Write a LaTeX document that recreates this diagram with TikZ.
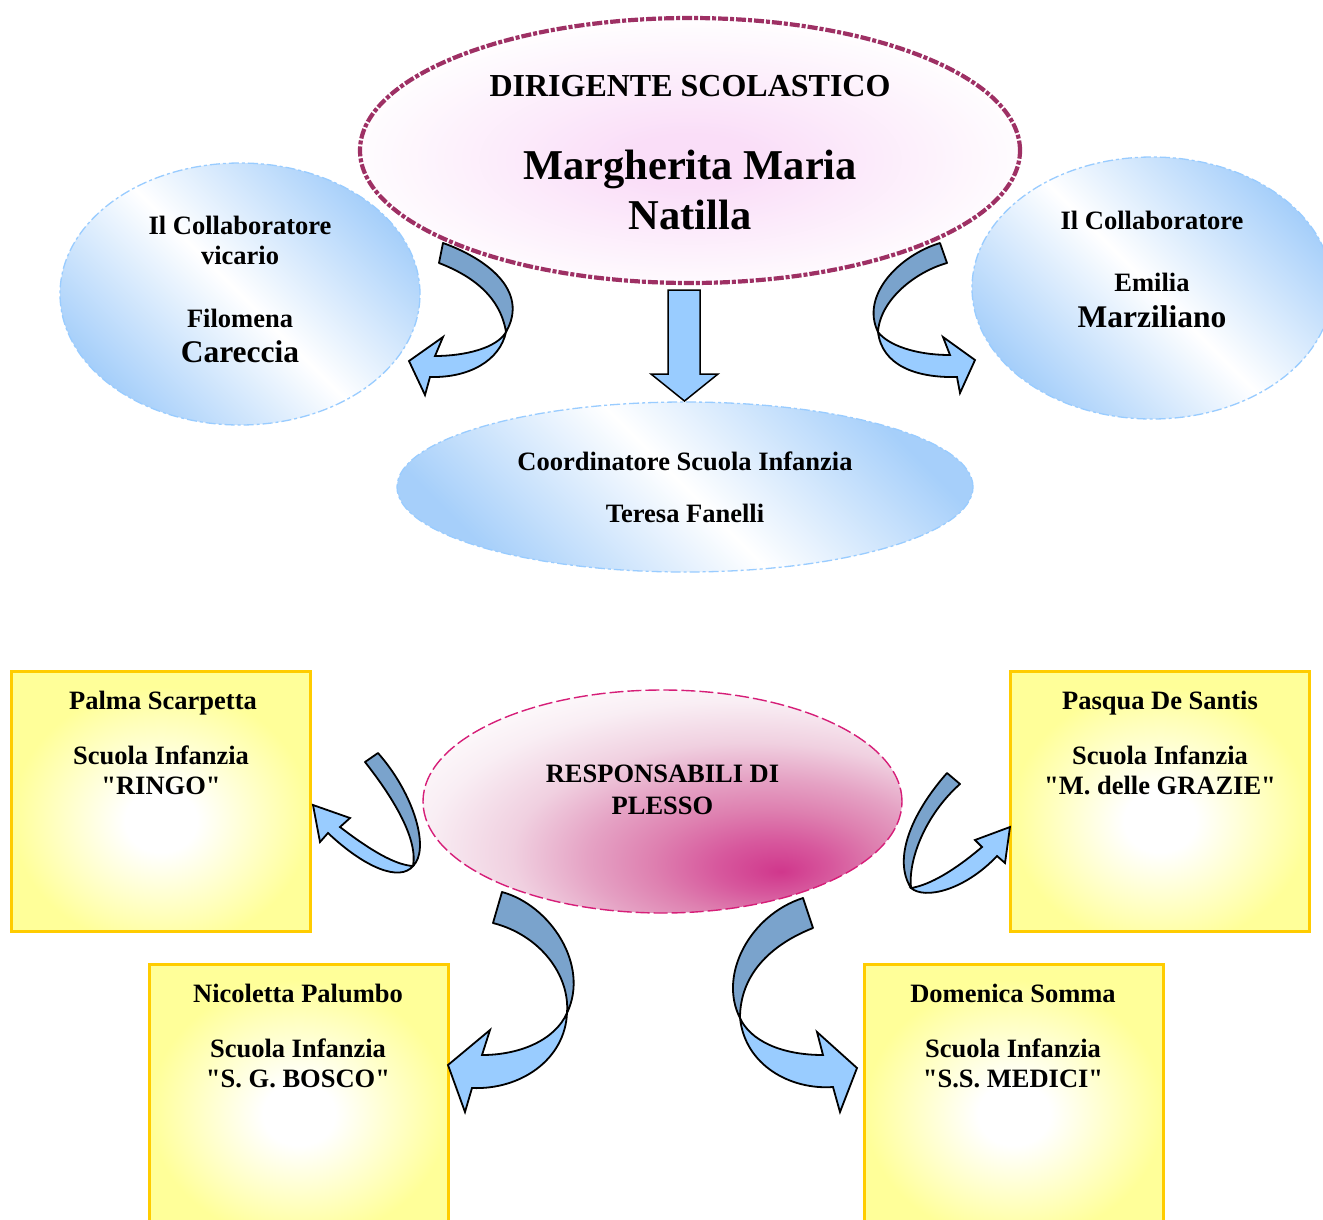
\documentclass[tikz,border=0pt]{standalone}
\usepackage{fontspec}
\setmainfont{Liberation Serif}[Ligatures=TeXOff]
\usetikzlibrary{shapes.geometric}
\definecolor{maroonb}{RGB}{158,48,100}
\definecolor{pinkc}{RGB}{250,222,248}
\definecolor{bluee}{RGB}{166,207,250}
\definecolor{blueb}{RGB}{153,204,255}
\definecolor{darkarrow}{RGB}{122,163,204}
\definecolor{lightarrow}{RGB}{153,204,255}
\definecolor{yellowb}{RGB}{255,204,0}
\definecolor{yellowf}{RGB}{255,255,153}
\definecolor{magb}{RGB}{214,30,120}
\definecolor{rsa}{RGB}{208,55,140}
\definecolor{rsab}{RGB}{215,88,157}
\definecolor{rsb}{RGB}{222,128,176}
\definecolor{rsbc}{RGB}{229,162,196}
\definecolor{rsc}{RGB}{240,208,224}
\definecolor{rsd}{RGB}{249,238,244}
\pgfdeclareradialshading{boxshade}{\pgfpoint{0bp}{-4bp}}{color(0bp)=(white); color(6bp)=(white); color(25bp)=(yellowf); color(100bp)=(yellowf)}
\pgfdeclareradialshading{topshade}{\pgfpoint{0bp}{-2bp}}{color(0bp)=(pinkc); color(5bp)=(pinkc); color(27bp)=(white); color(100bp)=(white)}
\pgfdeclareradialshading{respshade}{\pgfpoint{12.4bp}{-15.7bp}}{color(0bp)=(rsa); color(6bp)=(rsab); color(12bp)=(rsb); color(18bp)=(rsbc); color(25bp)=(rsc); color(33bp)=(rsd); color(41bp)=(white); color(100bp)=(white)}
\tikzset{
  txt/.style={anchor=base, inner sep=0pt, font=\bfseries\fontsize{26.5}{30}\selectfont},
  txtbig/.style={txt, font=\bfseries\fontsize{31.5}{36}\selectfont},
  txthead/.style={txt, font=\bfseries\fontsize{32}{36}\selectfont},
  txthuge/.style={txt, font=\bfseries\fontsize{42.5}{48}\selectfont},
  blueell/.style={ellipse, inner sep=0pt, draw=blueb, line width=1.3pt,
    dash pattern=on 10pt off 3pt on 3pt off 3pt,
    top color=bluee, bottom color=bluee, middle color=white, shading angle=-45},
  topell/.style={ellipse, inner sep=0pt, draw=maroonb, line width=4.2pt,
    dash pattern=on 10pt off 2pt on 4pt off 2pt, shade, shading=topshade},
  respell/.style={ellipse, inner sep=0pt, draw=magb, line width=1.4pt,
    dash pattern=on 14pt off 4pt, shade, shading=respshade},
  yellowbox/.style={rectangle, inner sep=0pt, draw=yellowb, line width=3.2pt,
    shade, shading=boxshade, minimum width=299pt, minimum height=260pt},
  darkband/.style={fill=darkarrow, draw=black, line width=1.8pt, line join=round},
  lightband/.style={fill=lightarrow, draw=black, line width=1.8pt, line join=miter},
}
\begin{document}
\begin{tikzpicture}[x=1pt,y=-1pt]
\clip (0,0) rectangle (1323,1219);
\fill[white] (0,0) rectangle (1323,1219);

% ---------- top part ----------
\node[blueell, minimum width=360pt, minimum height=262pt] (vic) at (240,294) {};
\node[blueell, minimum width=360pt, minimum height=262pt] (col) at (1152,288) {};
\node[topell, minimum width=660pt, minimum height=265pt] (dir) at (690,150.5) {};
\node[blueell, minimum width=576pt, minimum height=170pt] (coord) at (685,487) {};

\node[txthead] (dirA) at (690,96) {DIRIGENTE SCOLASTICO};
\node[txthuge] (dirB) at (690,179) {Margherita Maria};
\node[txthuge] (dirC) at (690,229) {Natilla};

\node[txt] (vicA) at (240,234) {Il Collaboratore};
\node[txt] (vicB) at (240,264) {vicario};
\node[txt] (vicC) at (240,327) {Filomena};
\node[txtbig] (vicD) at (240,362) {Careccia};

\node[txt] (colA) at (1152,229) {Il Collaboratore};
\node[txt] (colB) at (1152,291) {Emilia};
\node[txtbig] (colC) at (1152,327) {Marziliano};

\node[txt] (coA) at (685,470) {Coordinatore Scuola Infanzia};
\node[txt] (coB) at (685,522) {Teresa Fanelli};

% straight down arrow
\draw[fill=lightarrow, line width=1.5pt, line join=miter]
  (668,290) -- (700,290) -- (700,374) -- (718,374) -- (684.5,401) -- (651,374) -- (668,374) -- cycle;

% curved arrow top-left
\draw[darkband] (443,243) .. controls (485,258) and (530,290) .. (506,332)
  .. controls (500,295) and (470,275) .. (439,263) -- cycle;
\draw[lightband] (506,332) .. controls (500,360) and (470,378) .. (430,377)
  -- (425,395) -- (409,361) -- (443,337) -- (435,356)
  .. controls (465,356) and (497,348) .. (506,332) -- cycle;

% curved arrow top-right
\draw[darkband] (940,243) .. controls (900,255) and (860,295) .. (878,332)
  .. controls (880,300) and (915,272) .. (947,263) -- cycle;
\draw[lightband] (878,332) .. controls (882,365) and (915,378) .. (957,377)
  -- (960,393) -- (975,360) -- (943,337) -- (950,355)
  .. controls (915,355) and (888,345) .. (878,332) -- cycle;

% ---------- bottom part ----------
\node[respell, minimum width=479pt, minimum height=223pt] (resp) at (662.5,801.5) {};
\node[txt] (respA) at (662.5,782) {RESPONSABILI DI};
\node[txt] (respB) at (662.5,814) {PLESSO};

\node[yellowbox] (b1) at (161,801.5) {};
\node[yellowbox] (b2) at (1160,801.5) {};
\node[yellowbox] (b3) at (299,1094.5) {};
\node[yellowbox] (b4) at (1014,1094.5) {};

\node[txt] (b1a) at (163,709) {Palma Scarpetta};
\node[txt] (b1b) at (161,764) {Scuola Infanzia};
\node[txt] (b1c) at (161,794) {"RINGO"};

\node[txt] (b2a) at (1160,709) {Pasqua De Santis};
\node[txt] (b2b) at (1160,764) {Scuola Infanzia};
\node[txt] (b2c) at (1160,794) {"M. delle GRAZIE"};

\node[txt] (b3a) at (298,1002) {Nicoletta Palumbo};
\node[txt] (b3b) at (298,1057) {Scuola Infanzia};
\node[txt] (b3c) at (298,1087) {"S. G. BOSCO"};

\node[txt] (b4a) at (1013,1002) {Domenica Somma};
\node[txt] (b4b) at (1013,1057) {Scuola Infanzia};
\node[txt] (b4c) at (1013,1087) {"S.S. MEDICI"};

% curved arrow bottom-left upper
\draw[darkband] (365,762) .. controls (395,800) and (418,840) .. (413,866)
  .. controls (430,850) and (415,795) .. (378,753) -- cycle;
\draw[lightband] (413,866) .. controls (400,882) and (365,868) .. (328,833)
  -- (320,842) -- (313,805) -- (350,818) -- (340,827)
  .. controls (370,850) and (395,865) .. (413,866) -- cycle;

% curved arrow bottom-right upper
\draw[darkband] (947,773) .. controls (910,815) and (893,860) .. (911,888)
  .. controls (908,860) and (925,815) .. (960,784) -- cycle;
\draw[lightband] (911,888) .. controls (925,900) and (965,890) .. (997,856)
  -- (1005,863) -- (1010,827) -- (975,840) -- (982,847)
  .. controls (955,870) and (930,885) .. (911,888) -- cycle;

% curved arrow bottom-left lower
\draw[darkband] (502,892) .. controls (550,905) and (590,965) .. (567,1013)
  .. controls (570,975) and (540,935) .. (493,923) -- cycle;
\draw[lightband] (567,1013) .. controls (565,1060) and (520,1090) .. (472,1088)
  -- (465,1112) -- (448,1065) -- (490,1030) -- (482,1055)
  .. controls (520,1055) and (555,1040) .. (567,1013) -- cycle;

% curved arrow bottom-right lower
\draw[darkband] (803,898) .. controls (750,915) and (718,975) .. (740,1018)
  .. controls (740,975) and (770,945) .. (813,928) -- cycle;
\draw[lightband] (740,1018) .. controls (745,1065) and (790,1090) .. (833,1087)
  -- (840,1112) -- (857,1068) -- (817,1032) -- (823,1055)
  .. controls (780,1055) and (750,1040) .. (740,1018) -- cycle;
\end{tikzpicture}
\end{document}
